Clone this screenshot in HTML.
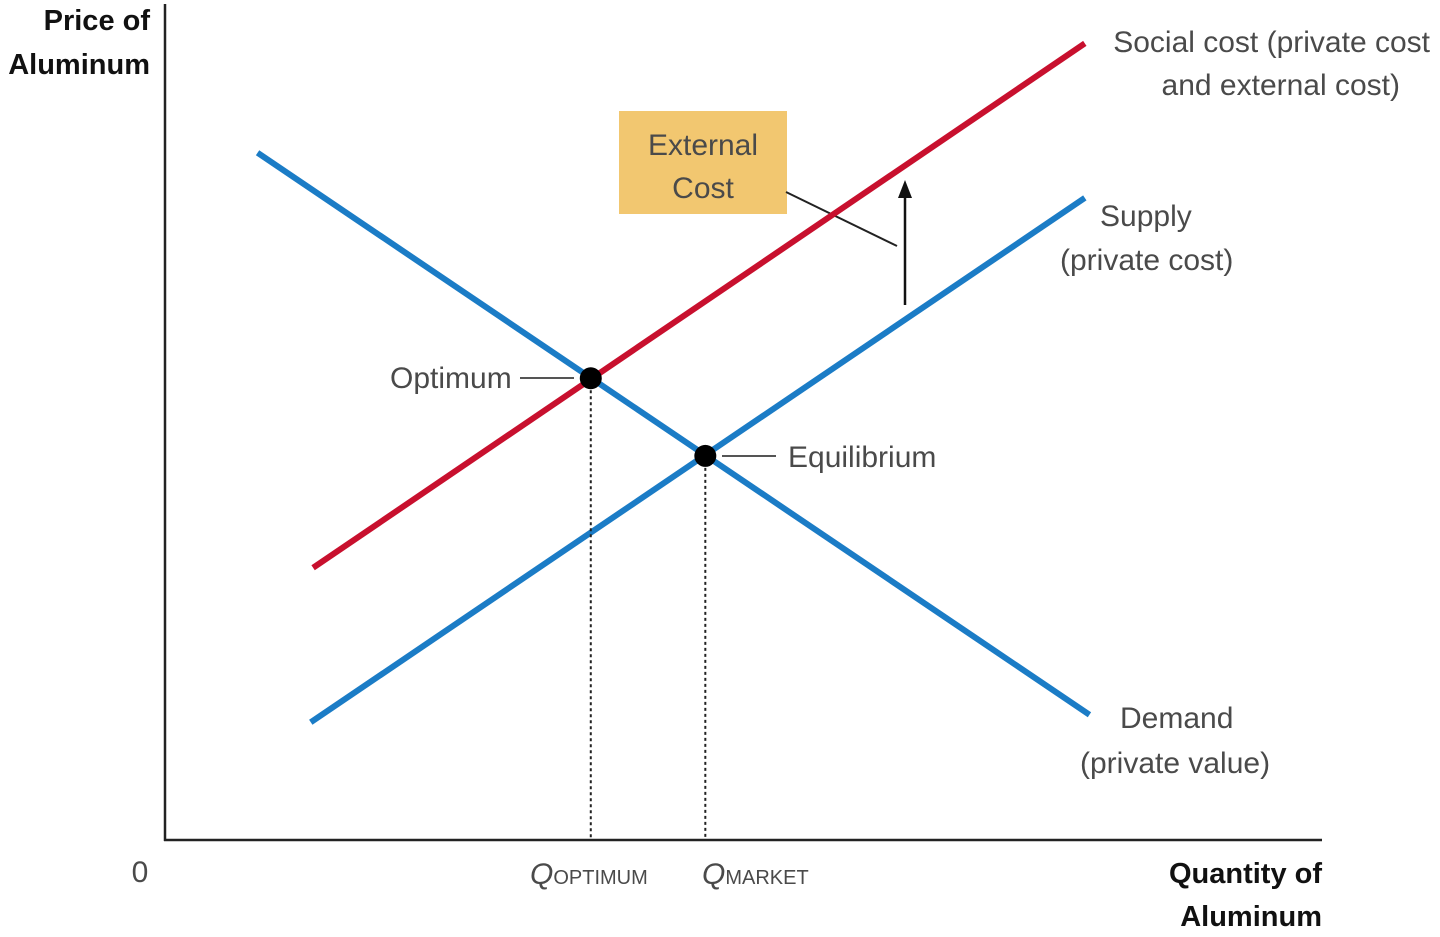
<!DOCTYPE html>
<html><head><meta charset="utf-8"><style>
html,body{margin:0;padding:0;background:#fff;width:1440px;height:937px;overflow:hidden}
svg{display:block}
.lbl{font-family:"Liberation Sans Narrow","Liberation Sans",sans-serif;font-size:30px;fill:#4a4a4a}
.ax{font-family:"Liberation Sans",sans-serif;font-size:29px;font-weight:bold;fill:#111}
</style></head><body>
<svg id="chart" width="1440" height="937" viewBox="0 0 1440 937" xmlns="http://www.w3.org/2000/svg">
<rect x="619" y="111" width="168" height="103" fill="#f2c770"/>
<text class="lbl" x="703" y="155" text-anchor="middle">External</text>
<text class="lbl" x="703" y="198" text-anchor="middle">Cost</text>
<line x1="786" y1="192" x2="897" y2="246" stroke="#222" stroke-width="2"/>
<g id="lines"></g>
<g id="arrow">
<line x1="905" y1="305" x2="905" y2="195" stroke="#111" stroke-width="2.5"/>
<polygon points="905,180 898,198 912,198" fill="#111"/>
</g>
<line x1="165" y1="4" x2="165" y2="841" stroke="#222" stroke-width="2.5"/>
<line x1="164" y1="840" x2="1322" y2="840" stroke="#222" stroke-width="2.5"/>
<text class="ax" x="150" y="30" text-anchor="end">Price of</text>
<text class="ax" x="150" y="74" text-anchor="end">Aluminum</text>
<text class="ax" x="1322" y="883" text-anchor="end">Quantity of</text>
<text class="ax" x="1322" y="926" text-anchor="end">Aluminum</text>
<text class="lbl" x="140" y="882" text-anchor="middle">0</text>
<text class="lbl" x="530" y="884"><tspan font-style="italic">Q</tspan><tspan font-size="20">OPTIMUM</tspan></text>
<text class="lbl" x="702" y="884"><tspan font-style="italic">Q</tspan><tspan font-size="20">MARKET</tspan></text>
<text class="lbl" x="1430" y="52" text-anchor="end">Social cost (private cost</text>
<text class="lbl" x="1400" y="95" text-anchor="end">and external cost)</text>
<text class="lbl" x="1100" y="226">Supply</text>
<text class="lbl" x="1060" y="270">(private cost)</text>
<text class="lbl" x="1120" y="728">Demand</text>
<text class="lbl" x="1080" y="773">(private value)</text>
<text class="lbl" x="390" y="388">Optimum</text>
<line x1="520" y1="378" x2="574" y2="378" stroke="#555" stroke-width="2"/>
<text class="lbl" x="788" y="467">Equilibrium</text>
<line x1="722" y1="456" x2="776" y2="456" stroke="#555" stroke-width="2"/>
</svg>
<script>
const lineNames = ["social-cost-line","supply-line","demand-line"];
const lineColors = ["#c8102e","#1b7cc6","#1b7cc6"];
const lineQ = [[12.8,79.5],[12.6,79.5],[8.0,79.9]];
const lineP = [[32.6,95.4],[14.1,76.9],[82.3,15.0]];
const pointNames = ["optimum-point","equilibrium-point"];
const pointQ = [36.8,46.7];
const pointP = [55.3,46.0];
function sx(q){return 165 + q*11.57;}
function sy(p){return 840 - p*8.35;}
const NS="http://www.w3.org/2000/svg";
const g=document.getElementById('lines');
for(let i=0;i<lineNames.length;i++){
  const l=document.createElementNS(NS,'line');
  l.setAttribute('x1',sx(lineQ[i][0]));l.setAttribute('y1',sy(lineP[i][0]));
  l.setAttribute('x2',sx(lineQ[i][1]));l.setAttribute('y2',sy(lineP[i][1]));
  l.setAttribute('stroke',lineColors[i]);l.setAttribute('stroke-width','6');
  
  
  g.appendChild(l);
}
for(let i=0;i<pointNames.length;i++){
  const d=document.createElementNS(NS,'line');
  d.setAttribute('x1',sx(pointQ[i]));d.setAttribute('x2',sx(pointQ[i]));
  d.setAttribute('y1',sy(pointP[i]));d.setAttribute('y2',840);
  d.setAttribute('stroke','#222');d.setAttribute('stroke-width','2');d.setAttribute('stroke-dasharray','3,3');
  
  
  g.appendChild(d);
  const c=document.createElementNS(NS,'circle');
  c.setAttribute('cx',sx(pointQ[i]));c.setAttribute('cy',sy(pointP[i]));c.setAttribute('r','11');c.setAttribute('fill','#000');
  
  
  g.appendChild(c);
}
</script>
</body></html>
